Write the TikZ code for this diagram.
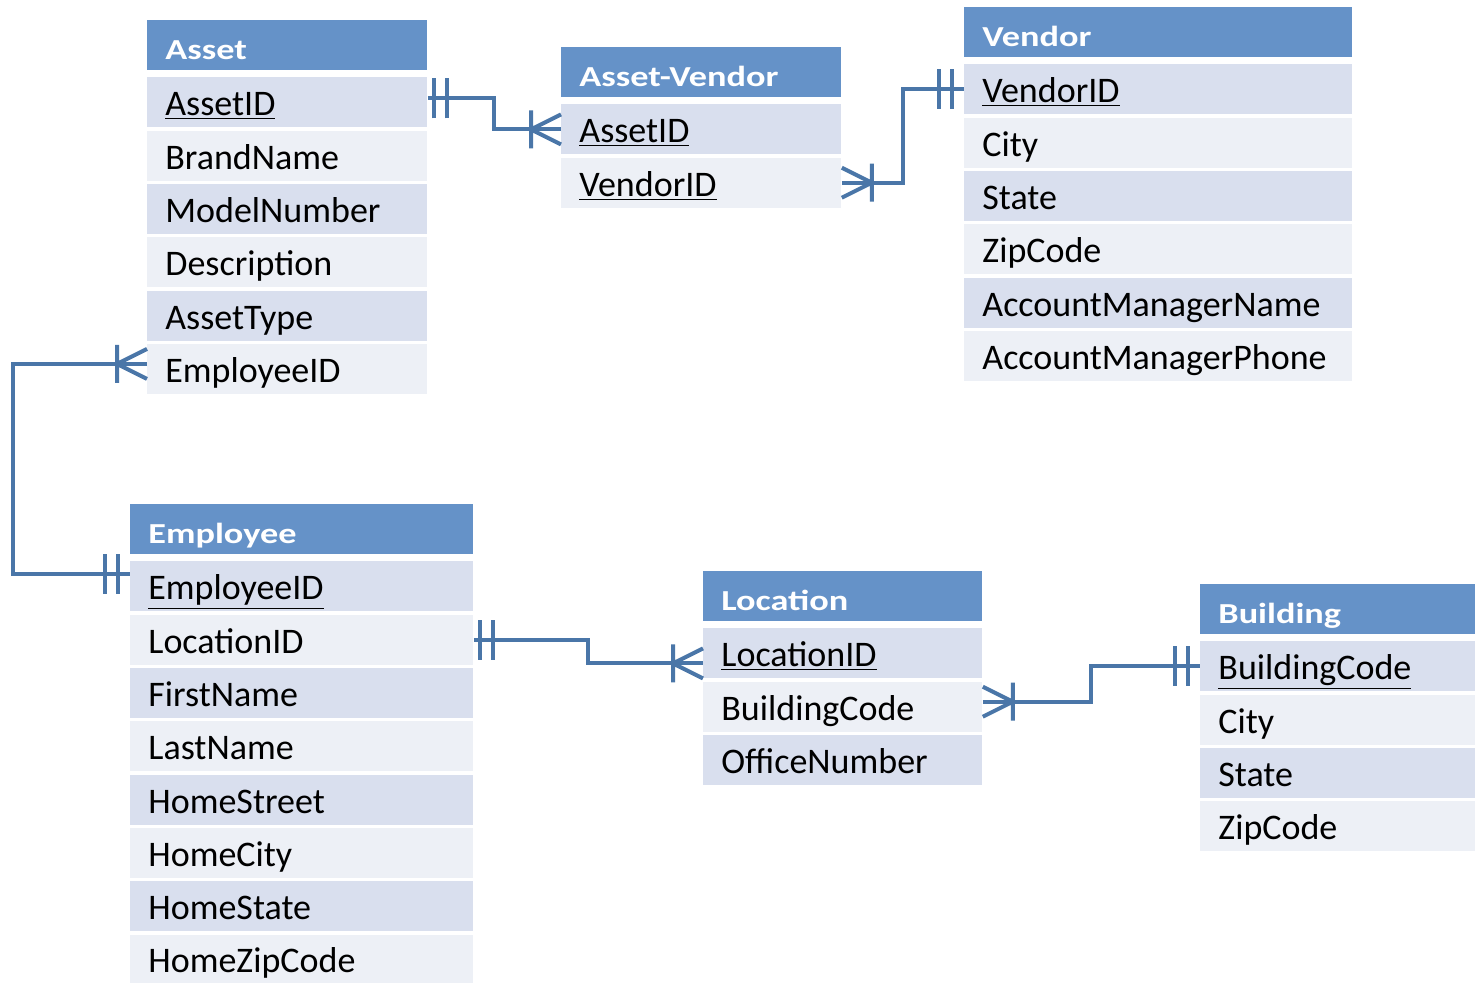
\documentclass[tikz,border=0pt]{standalone}
\usepackage{fontspec}
\setmainfont{Carlito}
\newfontfamily\headfont{Carlito}[FakeStretch=1.25]
\usetikzlibrary{calc}

\definecolor{headblue}{HTML}{6592C8}
\definecolor{row1}{HTML}{D9DFEE}
\definecolor{row0}{HTML}{EDF0F6}
\definecolor{erline}{HTML}{4A76A8}

\tikzset{
  head/.style={fill=headblue, text=white, anchor=north west, minimum height=25pt,
    inner ysep=0pt, inner xsep=9pt, align=left, text height=15pt, text depth=0.84pt,
    font=\headfont\fontsize{14.5}{16}\selectfont\bfseries},
  field/.style={anchor=north west, minimum height=25pt, inner ysep=0pt, inner xsep=9pt,
    align=left, text height=16.2pt, text depth=2.8pt, font=\fontsize{18}{20}\selectfont},
  er/.style={draw=erline, line width=2pt},
  many/.pic={\draw[er] (-30,0) -- (0,-15) (-30,0) -- (0,15) (-30,-19) -- (-30,19);},
  one/.pic={\draw[er] (-12,-20) -- (-12,20) (-25,-20) -- (-25,20);}
}

% table: name, x, y (px), width (pt), title, fields
\newcommand{\erTable}[6]{%
  \pgfmathsetmacro\tw{#4-18}
  \node[head, text width=\tw pt] (#10) at (#2,#3) {#5};
  \foreach \f [count=\i] in {#6} {
    \pgfmathtruncatemacro\shade{mod(\i,2)}
    \node[field, fill=row\shade, text width=\tw pt] (#1\i) at (#2,{#3+57+(\i-1)*53.3}) {\f};
  }
}

\begin{document}
\begin{tikzpicture}[x=0.5pt, y=-0.5pt]
    \useasboundingbox (0,0) rectangle (1475,982);

    \erTable{asset}{147}{20}{140}{Asset}{\underline{AssetID},BrandName,ModelNumber,Description,AssetType,EmployeeID}
    \erTable{av}{561}{47}{140}{Asset-Vendor}{\underline{AssetID},\underline{VendorID}}
    \erTable{vendor}{964}{7}{194}{Vendor}{\underline{VendorID},City,State,ZipCode,AccountManagerName,AccountManagerPhone}
    \erTable{emp}{130}{504}{171.5}{Employee}{\underline{EmployeeID},LocationID,FirstName,LastName,HomeStreet,HomeCity,HomeState,HomeZipCode}
    \erTable{loc}{703}{571}{139.5}{Location}{\underline{LocationID},BuildingCode,OfficeNumber}
    \erTable{bldg}{1200}{584}{138}{Building}{\underline{BuildingCode},City,State,ZipCode}

    % Asset -- Asset-Vendor
    \coordinate (a1r) at ([yshift=2pt]asset1.east);
    \draw[er] (a1r) -| ($(a1r)!.5!(av1.west)$) |- (av1.west);
    \pic[rotate=180] at ([xshift=-3pt]a1r) {one};
    \pic at (av1.west) {many};

    % Asset-Vendor -- Vendor
    \draw[er] (av2.east) -| ($(av2.east)!.5!(vendor1.west)$) |- (vendor1.west);
    \pic[rotate=180] at (av2.east) {many};
    \pic at (vendor1.west) {one};

    % Asset -- Employee
    \coordinate (a6l) at ([yshift=2.5pt]asset6.west);
    \coordinate (e1l) at ([yshift=6pt]emp1.west);
    \draw[er] (a6l) -- ++(-134,0) |- (e1l);
    \pic at (a6l) {many};
    \pic at (e1l) {one};

    % Employee -- Location
    \coordinate (l1l) at ([yshift=-5pt]loc1.west);
    \draw[er] (emp2.east) -| ($(emp2.east)!.5!(l1l)$) |- (l1l);
    \pic[rotate=180] at ([xshift=-3pt]emp2.east) {one};
    \pic at (l1l) {many};

    % Location -- Building
    \coordinate (l2r) at ([yshift=2.5pt]loc2.east);
    \draw[er] (l2r) -| ($(l2r)!.5!(bldg1.west)$) |- (bldg1.west);
    \pic[rotate=180] at (l2r) {many};
    \pic at (bldg1.west) {one};
\end{tikzpicture}
\end{document}
